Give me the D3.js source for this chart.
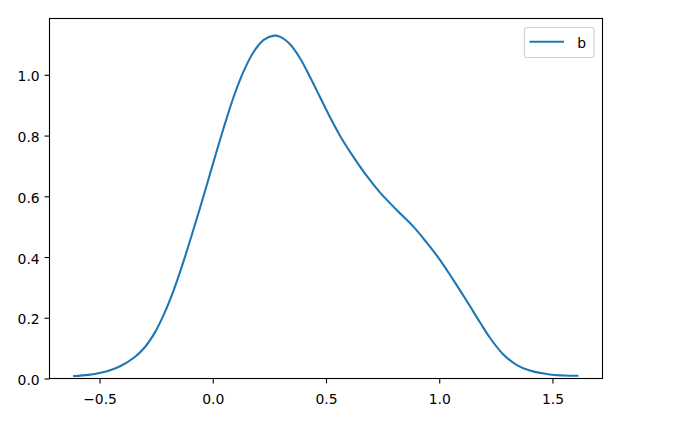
<!DOCTYPE html>
<html><head><meta charset="utf-8">
<script src="https://cdn.jsdelivr.net/npm/d3@7"></script>
<style>body{margin:0;background:#fff}svg{display:block}</style>
</head><body>
<svg id="c" width="700" height="425"></svg>
<script>
const seriesName = "b";
const xValues = [-0.612, -0.55, -0.495, -0.45, -0.407, -0.347, -0.30, -0.256, -0.216, -0.172, -0.128, -0.084, -0.039, 0.004, 0.048, 0.092, 0.137, 0.181, 0.225, 0.27, 0.298, 0.342, 0.386, 0.430, 0.474, 0.518, 0.563, 0.621, 0.680, 0.739, 0.812, 0.886, 0.944, 1.003, 1.062, 1.121, 1.179, 1.223, 1.282, 1.341, 1.40, 1.488, 1.55, 1.61];
const yValues = [0.008, 0.012, 0.019, 0.028, 0.041, 0.069, 0.103, 0.151, 0.211, 0.292, 0.388, 0.494, 0.605, 0.715, 0.825, 0.927, 1.013, 1.076, 1.115, 1.129, 1.125, 1.100, 1.054, 0.992, 0.926, 0.860, 0.798, 0.730, 0.667, 0.612, 0.555, 0.500, 0.448, 0.391, 0.325, 0.256, 0.186, 0.135, 0.080, 0.045, 0.026, 0.013, 0.010, 0.009];
const xTicks = [-0.5, 0.0, 0.5, 1.0, 1.5];
const yTicks = [0.0, 0.2, 0.4, 0.6, 0.8, 1.0];

const svg = d3.select("#c");
const L = 49.5, R = 602.5, T = 18.5, B = 378.5;
const x = d3.scaleLinear().domain([-0.721, 1.721]).range([L, R]);
const y = d3.scaleLinear().domain([0, 1.1855]).range([B, T]);
const font = "DejaVu Sans, sans-serif";
const fs = 13.9;

const xa = svg.append("g").attr("transform", `translate(0,${B})`)
  .call(d3.axisBottom(x).tickValues(xTicks).tickFormat(d3.format(".1f")).tickSize(4.9).tickPadding(4.9));
const ya = svg.append("g").attr("transform", `translate(${L},0)`)
  .call(d3.axisLeft(y).tickValues(yTicks).tickFormat(d3.format(".1f")).tickSize(4.9).tickPadding(4.9));
[xa, ya].forEach(a => {
  a.select(".domain").remove();
  a.selectAll("line").attr("stroke", "#000").attr("stroke-width", 1.1);
  a.selectAll("text").attr("font-family", font).attr("font-size", fs).attr("fill", "#000")
    .text(function(){ return this.textContent.replace("-", "\u2212"); });
});
xa.selectAll("text").attr("dy", null).attr("y", 25.5);
ya.selectAll("text").attr("dy", "0.43em");

const pts = xValues.map((v, i) => [v, yValues[i]]);
svg.append("path").datum(pts)
  .attr("fill", "none").attr("stroke", "#1f77b4").attr("stroke-width", 2.1)
  .attr("stroke-linejoin", "round").attr("stroke-linecap", "square")
  .attr("d", d3.line().x(d => x(d[0])).y(d => y(d[1])).curve(d3.curveCatmullRom.alpha(0.5)));

svg.append("rect").attr("x", L).attr("y", T).attr("width", R - L).attr("height", B - T)
  .attr("fill", "none").attr("stroke", "#000").attr("stroke-width", 1.1);

// legend
const lg = svg.append("g");
lg.append("rect").attr("x", 524.5).attr("y", 27.5).attr("width", 69.5).attr("height", 30)
  .attr("rx", 2.5).attr("fill", "#fff").attr("fill-opacity", 0.8).attr("stroke", "#d0d0d0").attr("stroke-width", 1.1);
lg.append("line").attr("x1", 529.5).attr("x2", 564).attr("y1", 41.7).attr("y2", 41.7)
  .attr("stroke", "#1f77b4").attr("stroke-width", 2.1);
lg.append("text").attr("x", 577.3).attr("y", 47.5).attr("font-family", font).attr("font-size", fs)
  .attr("fill", "#000").text(seriesName);
</script>
</body></html>
